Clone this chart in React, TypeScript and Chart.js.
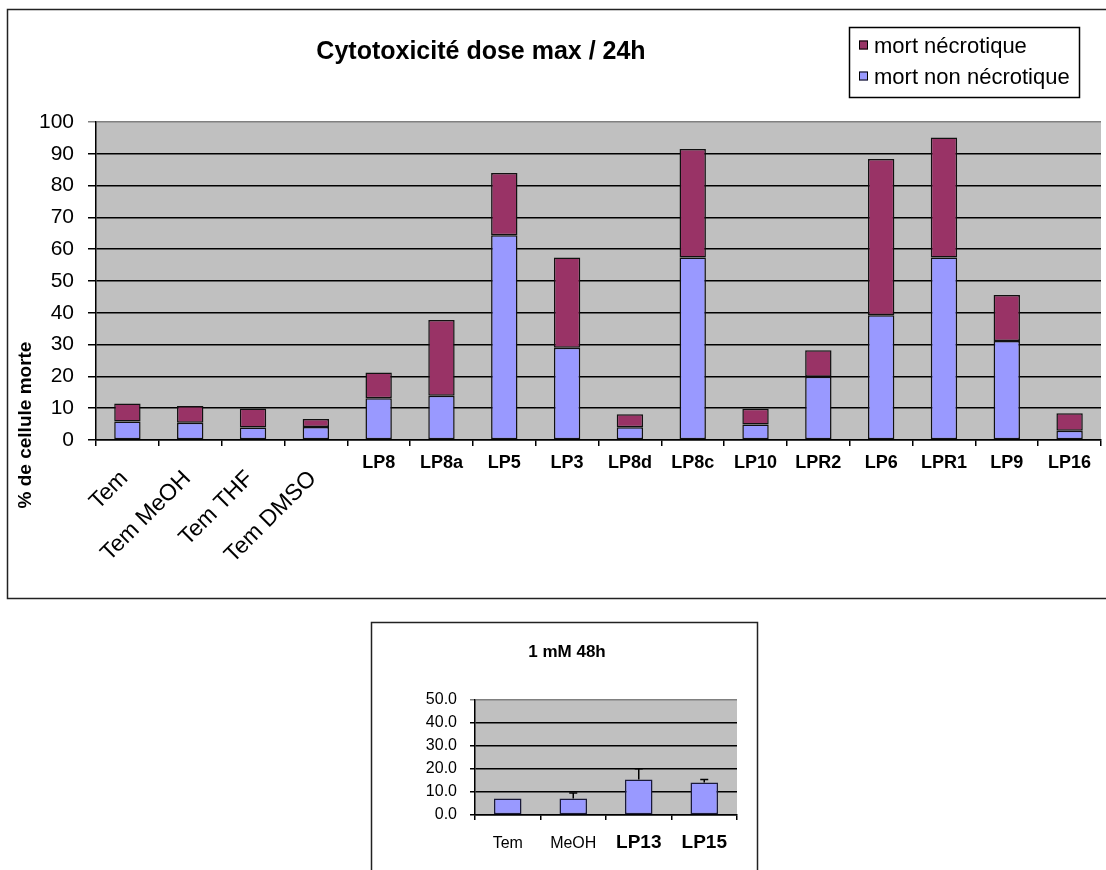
import React, { useEffect, useRef } from "react";
import { Chart, registerables } from "chart.js";

Chart.register(...registerables);

// ---- Top chart data ----
const categories = ["Tem", "Tem MeOH", "Tem THF", "Tem DMSO", "LP8", "LP8a", "LP5", "LP3", "LP8d", "LP8c", "LP10", "LPR2", "LP6", "LPR1", "LP9", "LP16"];
const nonNecrotic = [5.8, 5.4, 3.9, 4.1, 13.1, 13.9, 64.4, 29.0, 4.0, 57.4, 4.9, 19.9, 39.2, 57.4, 31.1, 2.9];
const necrotic = [5.7, 5.3, 6.0, 2.5, 8.1, 23.8, 19.6, 28.4, 4.1, 34.1, 4.9, 8.3, 49.2, 37.7, 14.5, 5.5];
const topTitle = "Cytotoxicité dose max / 24h";
const topYTitle = "% de cellule morte";
const topYMin = 0;
const topYMax = 100;
const topYStep = 10;

// ---- Bottom chart data ----
const smallCategories = ["Tem", "MeOH", "LP13", "LP15"];
const smallValues = [7.2, 7.2, 15.4, 14.1];
const smallErrors = [0, 2.4, 4.7, 1.3];
const smallBoldLabels = ["LP13", "LP15"];
const smallTitle = "1 mM 48h";
const smallYMin = 0;
const smallYMax = 50;
const smallYStep = 10;

const BLUE = "#9999FF";
const PLUM = "#993366";
const PLOT_BG = "#C0C0C0";
const FONT = "Arial, 'Liberation Sans', sans-serif";

const topPlugin = {
  id: "topDeco",
  beforeDraw(chart: any) {
    const { ctx, chartArea: a } = chart;
    ctx.save();
    ctx.fillStyle = "#ffffff";
    ctx.fillRect(0, 0, chart.width, chart.height);
    ctx.fillStyle = PLOT_BG;
    ctx.fillRect(a.left, a.top, a.right - a.left, a.bottom - a.top);
    ctx.restore();
  },
  afterDraw(chart: any) {
    const { ctx } = chart;
    const xs = chart.scales.x;
    ctx.save();
    // frame
    ctx.strokeStyle = "#222";
    ctx.lineWidth = 1.5;
    ctx.strokeRect(7.5, 9.5, 1110, 589);
    // title
    ctx.fillStyle = "#000";
    ctx.font = `bold 25px ${FONT}`;
    ctx.textAlign = "center";
    ctx.textBaseline = "middle";
    ctx.fillText(topTitle, 481, 52);
    // y title
    ctx.save();
    ctx.translate(26, 425);
    ctx.rotate(-Math.PI / 2);
    ctx.font = `bold 19px ${FONT}`;
    ctx.textAlign = "center";
    ctx.textBaseline = "middle";
    ctx.fillText(topYTitle, 0, 0);
    ctx.restore();
    // x labels
    categories.forEach((lab, i) => {
      const x = xs.getPixelForValue(i);
      if (lab.startsWith("Tem")) {
        ctx.save();
        ctx.translate(x - 3, 475);
        ctx.rotate(-Math.PI / 4);
        ctx.font = `23px ${FONT}`;
        ctx.textAlign = "right";
        ctx.textBaseline = "middle";
        ctx.fillText(lab, 0, 0);
        ctx.restore();
      } else {
        ctx.font = `bold 18px ${FONT}`;
        ctx.textAlign = "center";
        ctx.textBaseline = "alphabetic";
        ctx.fillText(lab, x, 468);
      }
    });
    // legend
    const lx = 849.5, ly = 27.5, lw = 230, lh = 70;
    ctx.fillStyle = "#fff";
    ctx.fillRect(lx, ly, lw, lh);
    ctx.strokeStyle = "#000";
    ctx.lineWidth = 1.5;
    ctx.strokeRect(lx, ly, lw, lh);
    const items = [...chart.data.datasets].reverse();
    items.forEach((ds: any, k: number) => {
      const baseY = 52.5 + k * 31;
      ctx.fillStyle = ds.backgroundColor;
      ctx.fillRect(859, baseY - 12, 9, 9);
      ctx.strokeStyle = "#000";
      ctx.lineWidth = 1;
      ctx.strokeRect(859.5, baseY - 11.5, 8, 8);
      ctx.fillStyle = "#000";
      ctx.font = `22px ${FONT}`;
      ctx.textAlign = "left";
      ctx.textBaseline = "alphabetic";
      ctx.fillText(ds.label, 874, baseY);
    });
    ctx.restore();
  },
};

const bottomPlugin = {
  id: "bottomDeco",
  beforeDraw(chart: any) {
    const { ctx, chartArea: a } = chart;
    ctx.save();
    ctx.fillStyle = "#ffffff";
    ctx.fillRect(0, 0, chart.width, chart.height);
    ctx.fillStyle = PLOT_BG;
    ctx.fillRect(a.left, a.top, a.right - a.left, a.bottom - a.top);
    ctx.restore();
  },
  afterDatasetsDraw(chart: any) {
    const { ctx } = chart;
    const ys = chart.scales.y;
    const meta = chart.getDatasetMeta(0);
    ctx.save();
    ctx.strokeStyle = "#000";
    ctx.lineWidth = 1.5;
    meta.data.forEach((bar: any, i: number) => {
      const e = smallErrors[i];
      if (!e) return;
      const y0 = ys.getPixelForValue(smallValues[i]);
      const y1 = ys.getPixelForValue(smallValues[i] + e);
      ctx.beginPath();
      ctx.moveTo(bar.x, y0);
      ctx.lineTo(bar.x, y1);
      ctx.moveTo(bar.x - 4, y1);
      ctx.lineTo(bar.x + 4, y1);
      ctx.stroke();
    });
    ctx.restore();
  },
  afterDraw(chart: any) {
    const { ctx } = chart;
    const xs = chart.scales.x;
    ctx.save();
    ctx.strokeStyle = "#222";
    ctx.lineWidth = 1.5;
    ctx.strokeRect(371.5, 22.5, 386, 300);
    ctx.fillStyle = "#000";
    ctx.font = `bold 17px ${FONT}`;
    ctx.textAlign = "center";
    ctx.textBaseline = "middle";
    ctx.fillText(smallTitle, 567, 52);
    smallCategories.forEach((lab, i) => {
      const x = xs.getPixelForValue(i);
      ctx.font = smallBoldLabels.includes(lab) ? `bold 19px ${FONT}` : `16px ${FONT}`;
      ctx.textAlign = "center";
      ctx.textBaseline = "alphabetic";
      ctx.fillText(lab, x, 248);
    });
    ctx.restore();
  },
};

export default function App() {
  const topRef = useRef<HTMLCanvasElement | null>(null);
  const botRef = useRef<HTMLCanvasElement | null>(null);

  useEffect(() => {
    document.body.style.margin = "0";
    document.body.style.overflow = "hidden";
    const top = new Chart(topRef.current as HTMLCanvasElement, {
      type: "bar",
      data: {
        labels: categories,
        datasets: [
          {
            label: "mort non nécrotique",
            data: nonNecrotic,
            backgroundColor: BLUE,
            borderColor: "#111",
            borderWidth: 1.5,
            borderSkipped: false,
            barPercentage: 0.42,
            categoryPercentage: 1,
          },
          {
            label: "mort nécrotique",
            data: necrotic,
            backgroundColor: PLUM,
            borderColor: "#111",
            borderWidth: 1.5,
            borderSkipped: false,
            barPercentage: 0.42,
            categoryPercentage: 1,
          },
        ],
      },
      options: {
        responsive: false,
        animation: false,
        devicePixelRatio: 1,
        layout: { padding: { left: 0, top: 122, right: 5, bottom: 0 } },
        plugins: { legend: { display: false }, title: { display: false }, tooltip: { enabled: false } },
        scales: {
          x: {
            stacked: true,
            grid: { display: true, drawOnChartArea: false, drawTicks: true, tickLength: 6, color: "#000", lineWidth: 1.5, offset: true },
            border: { display: true, color: "#000", width: 1.5 },
            ticks: { display: false },
            afterFit: (s: any) => { s.height = 160; },
          },
          y: {
            stacked: true,
            min: topYMin,
            max: topYMax,
            ticks: { stepSize: topYStep, font: { family: FONT, size: 21 }, color: "#000", padding: 14 },
            grid: {
              color: (c: any) => (c.tick && c.tick.value === topYMax ? "#808080" : "#000"),
              lineWidth: 1.5,
              tickLength: 8,
              drawTicks: true,
            },
            border: { color: "#000", width: 1.5 },
            afterFit: (s: any) => { s.width = 96; },
          },
        },
      } as any,
      plugins: [topPlugin],
    });

    const bot = new Chart(botRef.current as HTMLCanvasElement, {
      type: "bar",
      data: {
        labels: smallCategories,
        datasets: [
          {
            label: smallTitle,
            data: smallValues,
            backgroundColor: BLUE,
            borderColor: "#1a1a3a",
            borderWidth: 1.5,
            borderSkipped: false,
            barPercentage: 0.42,
            categoryPercentage: 1,
          },
        ],
      },
      options: {
        responsive: false,
        animation: false,
        devicePixelRatio: 1,
        layout: { padding: { left: 415, top: 100, right: 369, bottom: 0 } },
        plugins: { legend: { display: false }, title: { display: false }, tooltip: { enabled: false } },
        scales: {
          x: {
            grid: { display: true, drawOnChartArea: false, drawTicks: true, tickLength: 5, color: "#000", lineWidth: 1.5, offset: true },
            border: { display: true, color: "#000", width: 1.5 },
            ticks: { display: false },
            afterFit: (s: any) => { s.height = 55; },
          },
          y: {
            min: smallYMin,
            max: smallYMax,
            ticks: {
              stepSize: smallYStep,
              font: { family: FONT, size: 16 },
              color: "#000",
              padding: 13,
              callback: (v: any) => Number(v).toFixed(1),
            },
            grid: {
              color: (c: any) => (c.tick && c.tick.value === smallYMax ? "#808080" : "#000"),
              lineWidth: 1.5,
              tickLength: 5,
              drawTicks: true,
            },
            border: { color: "#000", width: 1.5 },
            afterFit: (s: any) => { s.width = 60; },
          },
        },
      } as any,
      plugins: [bottomPlugin],
    });

    return () => {
      top.destroy();
      bot.destroy();
    };
  }, []);

  return (
    <div style={{ position: "relative", width: 1106, height: 870, background: "#fff" }}>
      <canvas
        ref={topRef}
        width={1106}
        height={600}
        style={{ position: "absolute", left: 0, top: 0, width: 1106, height: 600 }}
      />
      <canvas
        ref={botRef}
        width={1106}
        height={270}
        style={{ position: "absolute", left: 0, top: 600, width: 1106, height: 270 }}
      />
    </div>
  );
}
